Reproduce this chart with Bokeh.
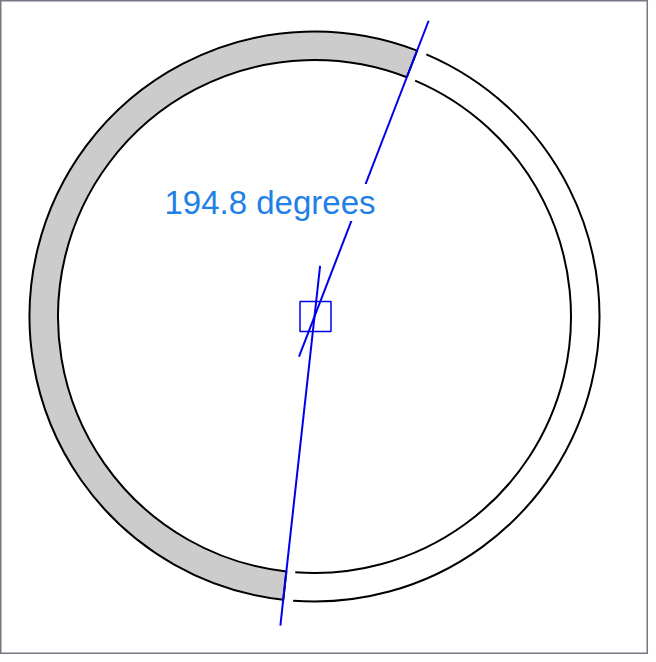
import numpy as np
from bokeh.plotting import figure
from bokeh.models import Range1d, Label
from bokeh.embed import file_html
from bokeh.resources import INLINE

# ---- data ----
measured_angle = 194.8          # degrees, shown in the label
start_angle_deg = 68.9          # where the shaded sector starts
end_angle_deg = start_angle_deg + measured_angle
inner_radius = 256.5
outer_radius = 285.0
gap_deg = 2.0                   # small gap between shaded ring and open arcs
ray_angles_deg = [start_angle_deg, end_angle_deg]
ray_forward = [317, 311]
ray_back = [43, 51]
marker_center = (1, 0)
marker_size = (31, 30)
label_text = f"{measured_angle} degrees"

p = figure(width=648, height=654, output_backend="svg", toolbar_location=None,
           x_range=Range1d(-314, 334), y_range=Range1d(-338, 316), min_border=0)
p.axis.visible = False
p.grid.visible = False
p.outline_line_color = "#767985"
p.outline_line_width = 2
p.background_fill_color = "white"
p.border_fill_color = "white"

# shaded ring sector
p.annular_wedge(x=0, y=0, inner_radius=inner_radius, outer_radius=outer_radius,
                start_angle=np.radians(start_angle_deg), end_angle=np.radians(end_angle_deg),
                fill_color="#cccccc", line_color="black", line_width=2)

# open arcs on the other side
arc_start = np.radians(end_angle_deg + gap_deg - 360)
arc_end = np.radians(start_angle_deg - gap_deg)
p.arc(x=[0, 0], y=[0, 0], radius=[inner_radius, outer_radius],
      start_angle=arc_start, end_angle=arc_end, line_color="black", line_width=2)

# rays through the centre
a = np.radians(ray_angles_deg)
fw = np.array(ray_forward)
bk = np.array(ray_back)
p.segment(x0=-bk * np.cos(a), y0=-bk * np.sin(a), x1=fw * np.cos(a), y1=fw * np.sin(a),
          line_color="#0000ee", line_width=2)

# centre marker
p.rect(x=marker_center[0], y=marker_center[1], width=marker_size[0], height=marker_size[1],
       fill_color=None, line_color="#0000ee", line_width=1.5)

lab = Label(x=-150, y=114, text=label_text, text_font="Liberation Sans",
            text_font_size="33px", text_color="#1f80e6", text_baseline="alphabetic",
            background_fill_color="white")
p.add_layout(lab)

open("out.html", "w").write(file_html(p, INLINE))
